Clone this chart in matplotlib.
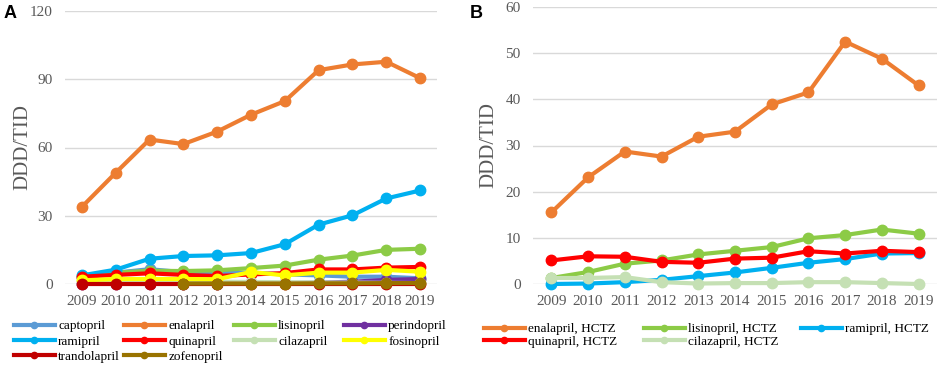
import numpy as np
import matplotlib
matplotlib.use("Agg")
import matplotlib.pyplot as plt

years = ["2009", "2010", "2011", "2012", "2013", "2014", "2015", "2016", "2017", "2018", "2019"]
nan = np.nan

# Panel A
captopril = [3.0, 5.0, 6.5, 5.2, 4.8, 5.0, 4.2, 3.8, 3.2, 3.2, 2.5]
enalapril = [33.9, 48.9, 63.5, 61.5, 67.0, 74.4, 80.4, 94.0, 96.5, 97.7, 90.5]
lisinopril = [3.3, 5.0, 5.8, 5.7, 6.0, 7.0, 8.1, 10.7, 12.5, 15.0, 15.5]
perindopril = [0.2, 0.2, 0.2, 0.2, 0.2, 0.3, 0.4, 0.6, 1.0, 1.8, 2.2]
ramipril = [3.8, 6.3, 11.1, 12.3, 12.6, 13.6, 17.5, 26.1, 30.2, 37.6, 41.1]
quinapril = [3.2, 4.0, 4.7, 4.0, 3.5, 4.2, 4.8, 6.4, 6.4, 7.2, 7.5]
cilazapril = [1.5, 1.4, 1.3, 1.1, 1.0, 0.9, 0.8, 0.7, 0.6, 0.5, 0.4]
fosinopril = [1.6, 2.2, 2.2, 2.2, 2.1, 5.3, 3.8, 5.0, 5.0, 6.2, 5.4]
trandolapril = [0.1, 0.1, 0.1, 0.1, 0.1, 0.1, 0.1, 0.1, 0.1, 0.1, 0.1]
zofenopril = [nan, nan, nan, 0.2, 0.2, 0.2, 0.2, 0.3, 0.3, 0.4, 0.4]

# Panel B
enalapril_hctz = [15.5, 23.1, 28.7, 27.6, 31.9, 33.0, 38.9, 41.5, 52.5, 48.8, 43.0]
lisinopril_hctz = [1.3, 2.6, 4.4, 5.1, 6.4, 7.2, 8.0, 9.9, 10.6, 11.8, 10.9]
ramipril_hctz = [0.0, 0.1, 0.4, 0.9, 1.7, 2.5, 3.5, 4.6, 5.4, 6.6, 6.7]
quinapril_hctz = [5.1, 6.0, 5.9, 4.8, 4.6, 5.5, 5.7, 7.1, 6.6, 7.2, 6.9]
cilazapril_hctz = [1.3, 1.3, 1.5, 0.4, 0.1, 0.2, 0.2, 0.4, 0.4, 0.2, 0.0]

series_a = [
    ("captopril", captopril, "#5B9BD5"),
    ("enalapril", enalapril, "#ED7D31"),
    ("lisinopril", lisinopril, "#8CCB46"),
    ("perindopril", perindopril, "#7030A0"),
    ("ramipril", ramipril, "#00B0F0"),
    ("quinapril", quinapril, "#FF0000"),
    ("cilazapril", cilazapril, "#C5E0B4"),
    ("fosinopril", fosinopril, "#FFFF00"),
    ("trandolapril", trandolapril, "#C00000"),
    ("zofenopril", zofenopril, "#997300"),
]
series_b = [
    ("enalapril, HCTZ", enalapril_hctz, "#ED7D31"),
    ("lisinopril, HCTZ", lisinopril_hctz, "#8CCB46"),
    ("ramipril, HCTZ", ramipril_hctz, "#00B0F0"),
    ("quinapril, HCTZ", quinapril_hctz, "#FF0000"),
    ("cilazapril, HCTZ", cilazapril_hctz, "#C5E0B4"),
]

W, H = 941, 370
fig = plt.figure(figsize=(W / 100, H / 100), dpi=100)
serif = ["Liberation Serif", "DejaVu Serif"]
tick_color = "#595959"


def px_axes(x0, y0, x1, y1):
    return fig.add_axes([x0 / W, 1 - y1 / H, (x1 - x0) / W, (y1 - y0) / H])


def style(ax, ymax, step, label_x):
    x = np.arange(len(years))
    ax.set_xlim(-0.5, len(years) - 0.5)
    ax.set_ylim(0, ymax)
    ax.set_yticks(np.arange(0, ymax + 1, step))
    ax.set_xticks(x)
    ax.set_xticklabels(years)
    for s in ax.spines.values():
        s.set_visible(False)
    ax.tick_params(length=0, colors=tick_color, labelsize=11)
    ax.tick_params(axis="x", pad=8)
    ax.tick_params(axis="y", pad=9)
    for lab in ax.get_xticklabels() + ax.get_yticklabels():
        lab.set_family(serif)
        lab.set_color(tick_color)
    ax.grid(axis="y", color="#D9D9D9", linewidth=1.0)
    ax.set_axisbelow(True)
    ax.set_ylabel("DDD/TID", family=serif, fontsize=15, color=tick_color,
                  va="center")
    ax.yaxis.set_label_coords(label_x, 0.5)


def draw(ax, series):
    x = np.arange(len(years))
    handles = []
    for name, vals, col in series:
        ax.plot(x, vals, color=col, lw=3.0, marker="o", ms=7.5, clip_on=False)
        h = plt.Line2D([], [], color=col, lw=3.0, marker="o", ms=4.5)
        handles.append((h, name))
    return handles


def column_legend(entries, x, y, spacing):
    leg = fig.legend([e[0] for e in entries], [e[1] for e in entries],
                     loc="upper left", bbox_to_anchor=(x / W, 1 - y / H),
                     frameon=False, prop={"family": serif, "size": 9.5},
                     handlelength=3.1, handletextpad=0.25,
                     labelspacing=spacing, borderaxespad=0, borderpad=0)
    return leg


axA = px_axes(65, 11, 437, 284)
style(axA, 120, 30, (23 - 65) / 372)
hA = draw(axA, series_a)
colsA = [[0, 4, 8], [1, 5, 9], [2, 6], [3, 7]]
xsA = [14, 124, 234, 344]
for cols, xx in zip(colsA, xsA):
    column_legend([hA[i] for i in cols], xx, 320, 0.24)

axB = px_axes(533, 7, 937, 284)
style(axB, 60, 10, (489 - 533) / 404)
hB = draw(axB, series_b)
colsB = [[0, 3], [1, 4], [2]]
xsB = [484, 644, 801]
for cols, xx in zip(colsB, xsB):
    column_legend([hB[i] for i in cols], xx, 323, 0.02)

fig.text(4 / W, 1 - 5 / H, "A", fontsize=13, fontweight="bold",
         family=["Liberation Sans", "DejaVu Sans"], va="top", ha="left")
fig.text(470 / W, 1 - 5 / H, "B", fontsize=13, fontweight="bold",
         family=["Liberation Sans", "DejaVu Sans"], va="top", ha="left")

fig.savefig("out.png", dpi=100)
